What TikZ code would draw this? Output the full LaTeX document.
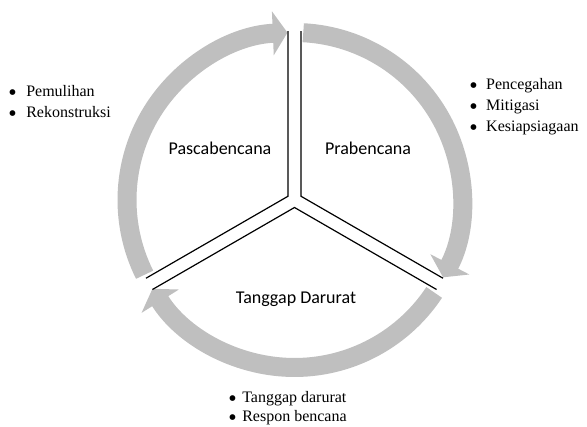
\documentclass[tikz,border=0pt]{standalone}
\usepackage{fontspec}
\setmainfont{Liberation Serif}
\newfontfamily\labelfont{Carlito}
\usetikzlibrary{arrows.meta}
\definecolor{ringgray}{RGB}{191,191,191}
\newcommand{\bigbullet}{\smash{\raisebox{-2.4pt}{\scalebox{1.5}{\textbullet}}}}

\begin{document}
\begin{tikzpicture}[x=0.75pt,y=0.75pt,
    ring/.style={draw=ringgray,line width=14.25pt,-{Triangle[width=32.5pt,length=11pt]}},
    divider/.style={line width=0.9pt},
    phase/.style={font=\labelfont\fontsize{13.5}{16}\selectfont,anchor=base,inner sep=0pt},
    point/.style={font=\fontsize{12}{14}\selectfont,anchor=base west,inner sep=0pt}]
            \useasboundingbox (0,0) rectangle (587,-427);
            \coordinate (c) at (294.5,-200);
            \draw[ring] (c) ++(206.5:167.5) arc[start angle=206.5,end angle=92.4,radius=167.5];
            \draw[ring] (c) ++(87:167.5) arc[start angle=87,end angle=-27.5,radius=167.5];
            \draw[ring] (c) ++(-33.5:167.5) arc[start angle=-33.5,end angle=-148,radius=167.5];
            \path (c) ++(150:7.5) coordinate (yl);
            \path (c) ++(30:7.5) coordinate (yr);
            \path (c) ++(270:7.5) coordinate (yb);
            \draw[divider] (yl) ++(90:165) -- (yl) -- ++(210:164);
            \draw[divider] (yr) ++(90:165) -- (yr) -- ++(-30:164);
            \draw[divider] (yb) ++(210:164) -- (yb) -- ++(-30:164);
            \node[phase] (pasca) at (220,-155) {Pascabencana};
            \node[phase] (pra) at (368,-155) {Prabencana};
            \node[phase] (tanggap) at (296,-304) {Tanggap Darurat};
            \node[point] (pulih) at (8,-97) {\bigbullet\hspace{7.2pt}Pemulihan};
            \node[point] (rekon) at (8,-118) {\bigbullet\hspace{7.2pt}Rekonstruksi};
            \node[point] (cegah) at (469,-90) {\bigbullet\hspace{6.4pt}Pencegahan};
            \node[point] (mitig) at (469,-111) {\bigbullet\hspace{6.4pt}Mitigasi};
            \node[point] (siaga) at (469,-132) {\bigbullet\hspace{6.4pt}Kesiapsiagaan};
            \node[point] (darurat) at (228,-403) {\bigbullet\hspace{4.2pt}Tanggap darurat};
            \node[point] (respon) at (228,-422) {\bigbullet\hspace{4.2pt}Respon bencana};
        \end{tikzpicture}
\end{document}
